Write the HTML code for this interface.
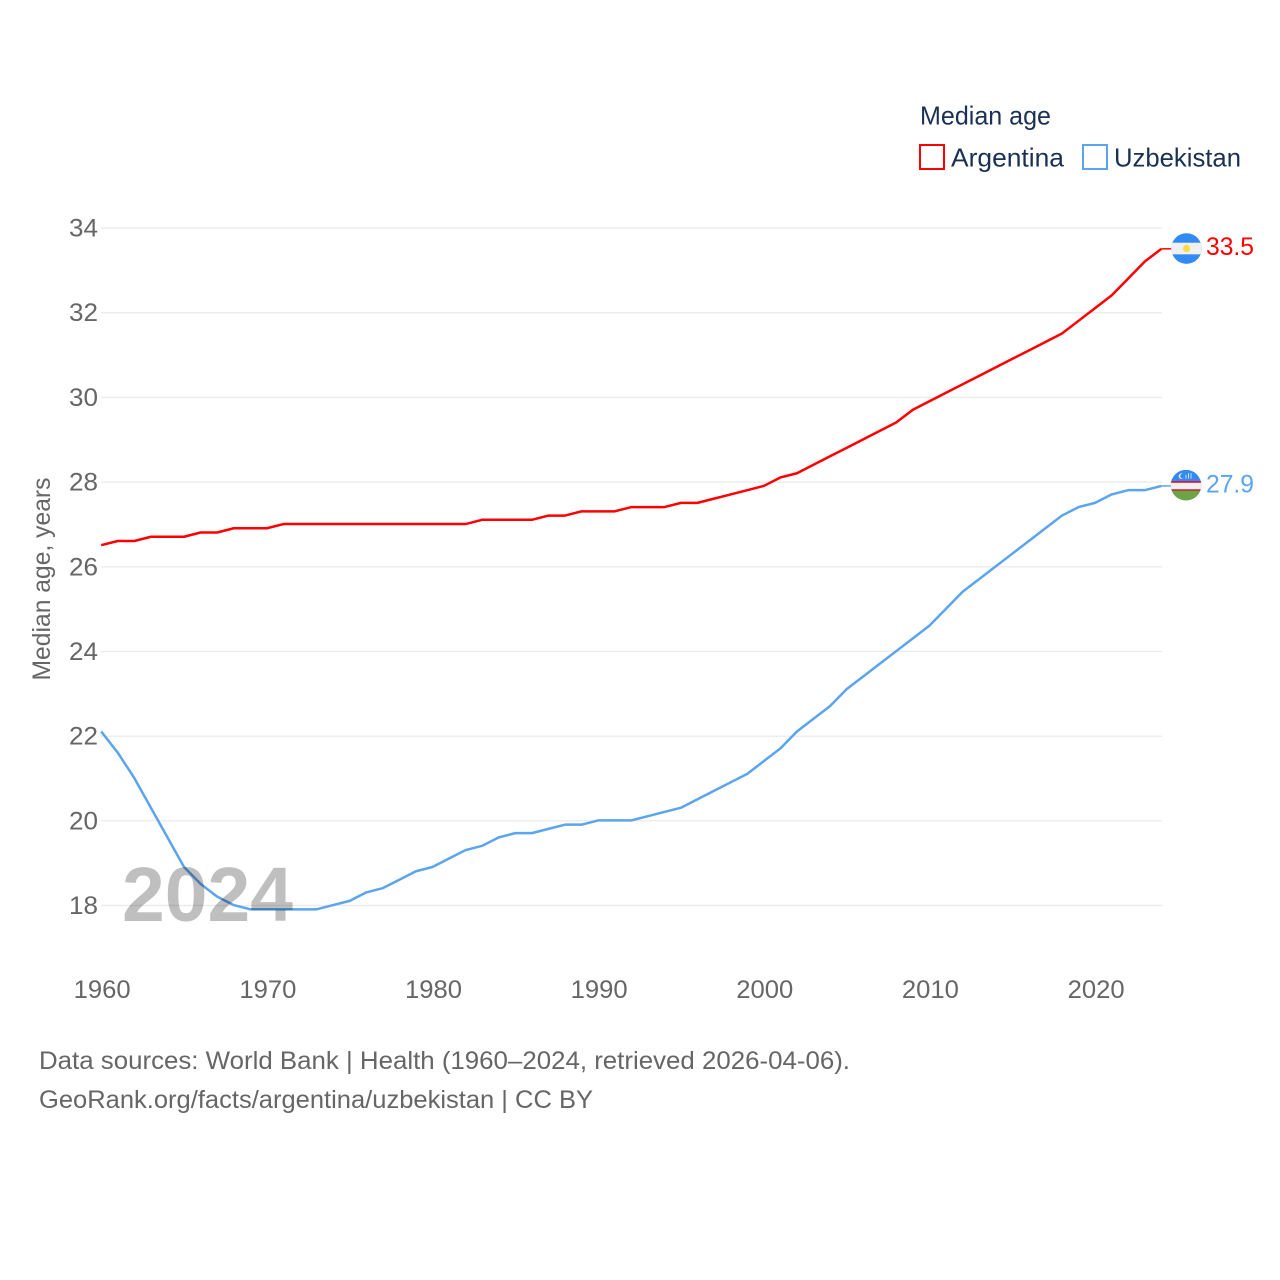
<!DOCTYPE html>
<html lang="en">
<head>
<meta charset="utf-8">
<title>Median age: Argentina and Uzbekistan</title>
<style>
html,body{margin:0;padding:0;background:#fff;width:1280px;height:1280px;overflow:hidden}
svg{display:block}
text{font-family:"Liberation Sans",sans-serif}
</style>
</head>
<body>
<svg id="chart" xmlns="http://www.w3.org/2000/svg" width="1280" height="1280" viewBox="0 0 1280 1280">
  <rect width="1280" height="1280" fill="#fff"/>
  <g id="grid"></g>
  <g id="yticks"></g>
  <g id="xticks"></g>
  <text transform="translate(50,579) rotate(-90)" text-anchor="middle" font-size="25" fill="#666" textLength="203" lengthAdjust="spacingAndGlyphs">Median age, years</text>

  <g id="series"></g>
  <text x="122" y="921" font-size="77" font-weight="700" fill="#000" fill-opacity="0.25" textLength="171" lengthAdjust="spacingAndGlyphs">2024</text>

  <g>
    <text x="920" y="124.5" font-size="26" fill="#1a3154" textLength="131" lengthAdjust="spacingAndGlyphs">Median age</text>
    <g>
      <rect x="920" y="145" width="24" height="24" fill="#fff" stroke="#ff0000" stroke-width="2"/>
      <text x="951" y="166.5" font-size="26" fill="#1a3154" textLength="113" lengthAdjust="spacingAndGlyphs">Argentina</text>
    </g>
    <g>
      <rect x="1083" y="145" width="24" height="24" fill="#fff" stroke="#5ba4ee" stroke-width="2"/>
      <text x="1114" y="166.5" font-size="26" fill="#1a3154" textLength="127" lengthAdjust="spacingAndGlyphs">Uzbekistan</text>
    </g>
  </g>

  <defs>
    <clipPath id="clip-flag"><circle cx="0" cy="0" r="15.3"/></clipPath>
  </defs>
  <g id="flag-ar">
    <g clip-path="url(#clip-flag)">
      <rect x="-16" y="-16" width="32" height="32" fill="#338af3"/>
      <rect x="-16" y="-5.8" width="32" height="11.6" fill="#f0f0f0"/>
      <circle cx="0" cy="0" r="3.6" fill="#ffda44"/>
    </g>
  </g>
  <g id="flag-uz">
    <g clip-path="url(#clip-flag)">
      <rect x="-16" y="-16" width="32" height="32" fill="#338af3"/>
      <rect x="-16" y="-4" width="32" height="9" fill="#f0f0f0"/>
      <rect x="-16" y="-4" width="32" height="1.6" fill="#d80027"/>
      <rect x="-16" y="4.2" width="32" height="1.4" fill="#d80027"/>
      <rect x="-16" y="5.5" width="32" height="11" fill="#6da544"/>
      <circle cx="-4.5" cy="-9" r="2.8" fill="#f0f0f0"/>
      <circle cx="-3.4" cy="-9" r="2.4" fill="#338af3"/>
      <rect x="-0.5" y="-10.5" width="1" height="4" fill="#f0f0f0" opacity=".8"/>
      <rect x="2" y="-12" width="1" height="5.5" fill="#f0f0f0" opacity=".8"/>
      <rect x="4.5" y="-12" width="1" height="5.5" fill="#f0f0f0" opacity=".8"/>
    </g>
  </g>
  <g id="endlabels"></g>

  <text x="39" y="1069" font-size="25" fill="#666" textLength="811" lengthAdjust="spacingAndGlyphs">Data sources: World Bank | Health (1960–2024, retrieved 2026-04-06).</text>
  <text x="39" y="1108" font-size="25" fill="#666" textLength="554" lengthAdjust="spacingAndGlyphs">GeoRank.org/facts/argentina/uzbekistan | CC BY</text>
</svg>
<script>
const startYear = 1960;
const yTickLabels = [18, 20, 22, 24, 26, 28, 30, 32, 34];
const xTickLabels = [1960, 1970, 1980, 1990, 2000, 2010, 2020];
const argentinaValues = [26.5,26.6,26.6,26.7,26.7,26.7,26.8,26.8,26.9,26.9,26.9,27.0,27.0,27.0,27.0,27.0,27.0,27.0,27.0,27.0,27.0,27.0,27.0,27.1,27.1,27.1,27.1,27.2,27.2,27.3,27.3,27.3,27.4,27.4,27.4,27.5,27.5,27.6,27.7,27.8,27.9,28.1,28.2,28.4,28.6,28.8,29.0,29.2,29.4,29.7,29.9,30.1,30.3,30.5,30.7,30.9,31.1,31.3,31.5,31.8,32.1,32.4,32.8,33.2,33.5];
const uzbekistanValues = [22.1,21.6,21.0,20.3,19.6,18.9,18.5,18.2,18.0,17.9,17.9,17.9,17.9,17.9,18.0,18.1,18.3,18.4,18.6,18.8,18.9,19.1,19.3,19.4,19.6,19.7,19.7,19.8,19.9,19.9,20.0,20.0,20.0,20.1,20.2,20.3,20.5,20.7,20.9,21.1,21.4,21.7,22.1,22.4,22.7,23.1,23.4,23.7,24.0,24.3,24.6,25.0,25.4,25.7,26.0,26.3,26.6,26.9,27.2,27.4,27.5,27.7,27.8,27.8,27.9];

const NS = 'http://www.w3.org/2000/svg';
const xScale = function (year) { return 101.2 + (year - 1960) * 16.565; };
const yScale = function (v) { return 905.5 - (v - 18) * 42.34; };
const lineOffset = -0.4;

function make(tag, parent, attrs, txt) {
  const el = document.createElementNS(NS, tag);
  for (const k in attrs) el.setAttribute(k, attrs[k]);
  if (txt !== undefined) el.textContent = txt;
  parent.appendChild(el);
  return el;
}

const grid = document.getElementById('grid');
const yticks = document.getElementById('yticks');
yTickLabels.forEach(function (t) {
  const line = make('line', grid, { x1: 101, x2: 1162, y1: yScale(t), y2: yScale(t), stroke: '#ececec', 'stroke-width': 1.4 });
  
  
  const label = make('text', yticks, { x: 98, y: yScale(t) + 8.5, 'text-anchor': 'end', 'font-size': 25, fill: '#666', textLength: 29, lengthAdjust: 'spacingAndGlyphs' }, String(t));
  
  
});

const xticks = document.getElementById('xticks');
xTickLabels.forEach(function (t) {
  const label = make('text', xticks, { x: xScale(t) + 1, y: 998, 'text-anchor': 'middle', 'font-size': 25, fill: '#666', textLength: 57, lengthAdjust: 'spacingAndGlyphs' }, String(t));
  
  
});

function linePoints(values) {
  return values.map(function (v, i) {
    return xScale(startYear + i).toFixed(2) + ',' + (yScale(v) + lineOffset).toFixed(2);
  }).join(' ');
}

const series = document.getElementById('series');
const argLine = make('polyline', series, { points: linePoints(argentinaValues), fill: 'none', stroke: '#ff0000', 'stroke-width': 2.5, 'stroke-linejoin': 'round' });


const uzLine = make('polyline', series, { points: linePoints(uzbekistanValues), fill: 'none', stroke: '#5ba4ee', 'stroke-width': 2.5, 'stroke-linejoin': 'round' });



const lastYear = startYear + argentinaValues.length - 1;
const argLast = argentinaValues[argentinaValues.length - 1];
const uzLast = uzbekistanValues[uzbekistanValues.length - 1];

const argConn = make('line', series, { x1: xScale(lastYear), x2: 1172, y1: yScale(argLast) + lineOffset, y2: yScale(argLast) + lineOffset, stroke: '#ff0000', 'stroke-width': 1.5 });


const uzConn = make('line', series, { x1: xScale(lastYear), x2: 1172, y1: yScale(uzLast) + lineOffset, y2: yScale(uzLast) + lineOffset, stroke: '#5ba4ee', 'stroke-width': 1.5 });



document.getElementById('flag-ar').setAttribute('transform', 'translate(1186.5,' + (yScale(argLast) - 0.7) + ')');
document.getElementById('flag-uz').setAttribute('transform', 'translate(1186,' + (yScale(uzLast) - 1.2) + ')');

const endlabels = document.getElementById('endlabels');
const argLabel = make('text', endlabels, { x: 1206, y: yScale(argLast) + 6, 'font-size': 25, fill: '#ff0000', textLength: 48, lengthAdjust: 'spacingAndGlyphs' }, argLast.toFixed(1));


const uzLabel = make('text', endlabels, { x: 1206, y: yScale(uzLast) + 6, 'font-size': 25, fill: '#5ba4ee', textLength: 48, lengthAdjust: 'spacingAndGlyphs' }, uzLast.toFixed(1));


</script>
</body>
</html>
